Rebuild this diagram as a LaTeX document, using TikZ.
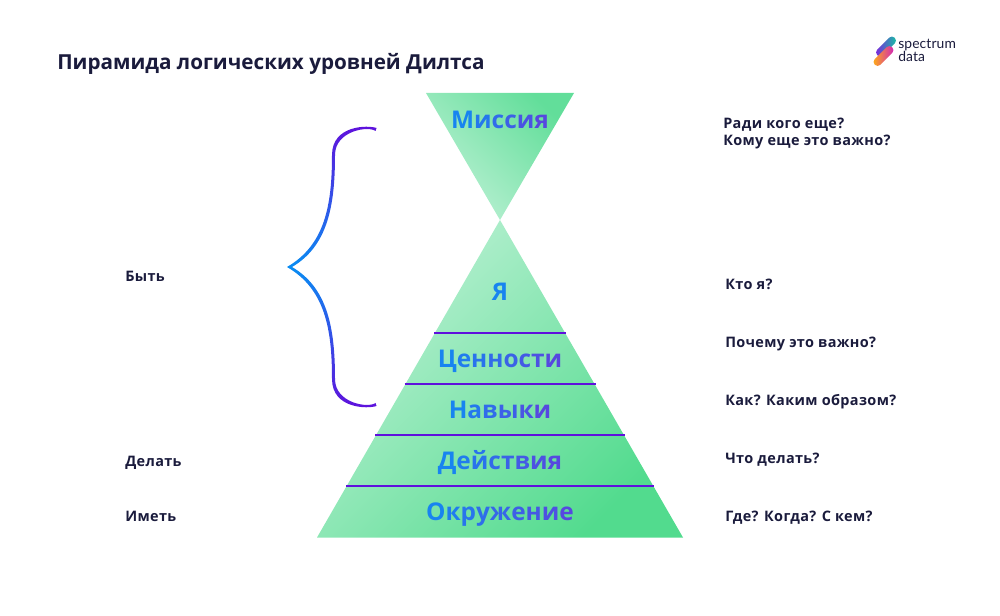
\documentclass[tikz,border=0pt]{standalone}
\usepackage{fontspec}
\setmainfont{Open Sans}[BoldFont=* Bold]
\newfontfamily\labelfont{Open Sans}[BoldFont=* Bold,LetterSpace=2.5]
\newfontfamily\titlefont{Open Sans}[BoldFont=* Bold]
\newfontfamily\logofont{Lato}[LetterSpace=0.8]
\definecolor{inkdark}{HTML}{1A1B3C}
\definecolor{linev}{HTML}{5F10DC}
\definecolor{gradblue}{HTML}{1884F0}
\definecolor{gradpurple}{HTML}{5648E0}
\definecolor{bracemid}{HTML}{0A8CF2}
\definecolor{pyrlight}{HTML}{BDF1D5}
\definecolor{pyrdark}{HTML}{52DB8E}
\definecolor{pyrtop}{HTML}{62DE9A}
\definecolor{logoteal}{HTML}{10C8A0}
\definecolor{logoblue}{HTML}{2080F0}
\definecolor{logopurple}{HTML}{8020E0}
\definecolor{logoamber}{HTML}{FFB010}
\definecolor{logored}{HTML}{F04040}
\definecolor{logopink}{HTML}{D020C0}
\makeatletter
\newcount\gradn \newcount\gradi
\newcommand\gradword[1]{\gradn=0 \@tfor\gradx:=#1\do{\advance\gradn 1 }\advance\gradn -1 \ifnum\gradn<1 \gradn=1 \fi\gradi=0 \@tfor\gradx:=#1\do{\pgfmathtruncatemacro\gradp{100*\gradi/\gradn}{\color{gradpurple!\gradp!gradblue}\gradx}\advance\gradi 1 }}
\makeatother
\tikzset{
  level/.style={font=\fontsize{18.3}{20}\bfseries\labelfont,anchor=base,inner sep=0pt},
  lab/.style={font=\fontsize{10.85}{13}\bfseries\labelfont,text=inkdark,anchor=base west,inner sep=0pt},
  ttl/.style={font=\fontsize{15.5}{19}\bfseries\titlefont,text=inkdark,anchor=base west,inner sep=0pt},
  tier/.style={draw=linev,line width=1.1pt},
  logo/.style={font=\fontsize{10.4}{11}\logofont,text=inkdark,anchor=base west,inner sep=0pt},
  logobar/.style={rounded corners=2.9pt,minimum width=18.5pt,minimum height=6pt,inner sep=0pt,rotate=45}
}
\begin{document}
\begin{tikzpicture}[x=0.75pt,y=-0.75pt]
\useasboundingbox (0,0) rectangle (1000,616);
% triangles
\coordinate (tl) at (426,93); \coordinate (tr) at (574,93); \coordinate (apex) at (500,220);
\coordinate (bl) at (317,537.5); \coordinate (br) at (683,537.5);
\shade[left color=pyrtop,right color=pyrlight,shading angle=-45] (tl)--(tr)--(apex)--cycle;
\shade[left color=pyrlight,right color=pyrdark,shading angle=45] (apex)--(br)--(bl)--cycle;
% tier lines
\foreach \n/\xa/\xb/\yy in {a/434/566/333,b/404.5/595.5/384,c/375/625/435,d/346/654/486}{
  \coordinate (\n l) at (\xa,\yy); \coordinate (\n r) at (\xb,\yy);
  \draw[tier] (\n l)--(\n r);
}
% brace
\shade[top color=linev,bottom color=linev,middle color=bracemid]
 (376.5,128) .. controls (368,125) and (332,125) .. (332,155)
 .. controls (332,205) and (325,245) .. (287,267)
 .. controls (325,289) and (332,329) .. (332,379)
 .. controls (332,409) and (368,409) .. (376.5,406)
 -- (375.5,403)
 .. controls (368,408.5) and (335,403) .. (335,379)
 .. controls (335,329) and (328,288) .. (292,267)
 .. controls (328,246) and (335,205) .. (335,155)
 .. controls (335,131) and (368,125.5) .. (375.5,131)
 -- cycle;
% level labels
\node[level] (m) at (500,128.5) {\gradword{Миссия}};
\node[level] (ya) at (500,300.5) {\gradword{Я}};
\node[level] (v) at (500,367.5) {\gradword{Ценности}};
\node[level] (n) at (500,418.5) {\gradword{Навыки}};
\node[level] (d) at (500,469.5) {\gradword{Действия}};
\node[level] (o) at (500,520) {\gradword{Окружение}};
% texts
\node[ttl] (title) at (57,70) {Пирамида логических уровней Дилтса};
\node[lab] (q1) at (723,129) {Ради кого еще?};
\node[lab] (q1b) at (723,146) {Кому еще это важно?};
\node[lab] (q2) at (725,290) {Кто я?};
\node[lab] (q3) at (725,348) {Почему это важно?};
\node[lab] (q4) at (725,406) {Как? Каким образом?};
\node[lab] (q5) at (725,464) {Что делать?};
\node[lab] (q6) at (725,522) {Где? Когда? С кем?};
\node[lab] (l1) at (125,282) {Быть};
\node[lab] (l2) at (125,467) {Делать};
\node[lab] (l3) at (125,522) {Иметь};
% logo
\node[logobar,left color=logopurple,middle color=logoblue,right color=logoteal] (lg1) at (886,46.5) {};
\node[logobar,left color=logoamber,middle color=logored,right color=logopink] (lg2) at (883.5,56) {};
\node[logo] (lt1) at (898,48.5) {spectrum};
\node[logo] (lt2) at (898,62) {data};
\end{tikzpicture}
\end{document}
